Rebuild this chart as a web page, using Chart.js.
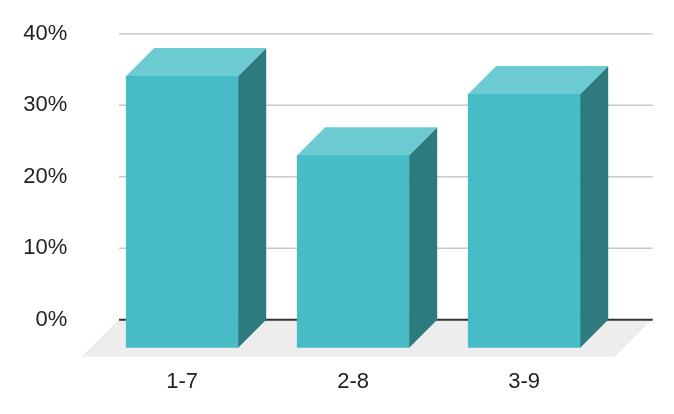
<!DOCTYPE html>
<html>
<head>
<meta charset="UTF-8" />
<title>3D bars</title>
<script src="https://cdn.jsdelivr.net/npm/chart.js"></script>
<style>
  html, body { margin: 0; padding: 0; background: #fff; }
  #wrap { width: 674px; height: 414px; }
</style>
</head>
<body>
<div id="wrap"><canvas id="chart"></canvas></div>
<script>
  // data
  const categories = ['1-7', '2-8', '3-9'];
  const shares = [0.38, 0.269, 0.355];
  const yTicks = [0, 0.1, 0.2, 0.3, 0.4];

  // colours
  const frontColor = '#48bcc6';
  const topColor = '#6ccad1';
  const sideColor = '#2e7b7f';
  const floorColor = '#ededed';
  const gridColor = '#c8c8c8';

  const DEPTH = 28; // depth of the bars (45 degrees)

  // grid, floor and the extra faces of the boxes
  const box3d = {
    id: 'box3d',
    beforeDatasetsDraw(chart) {
      const { ctx, chartArea, scales: { y } } = chart;
      const x0 = chartArea.left + 22.3;
      const x1 = chartArea.right + 43;
      ctx.save();
      // gridlines on the back wall
      ctx.strokeStyle = gridColor;
      ctx.lineWidth = 1.5;
      yTicks.forEach(v => {
        if (v === 0) return;
        const py = y.getPixelForValue(v) - DEPTH;
        ctx.beginPath();
        ctx.moveTo(x0, py);
        ctx.lineTo(x1, py);
        ctx.stroke();
      });
      // floor
      const base = y.getPixelForValue(0);
      const fy = base + 9;
      const fl = chartArea.left - 15;
      const fr = chartArea.right + 5.3;
      const fd = 37;
      ctx.fillStyle = floorColor;
      ctx.beginPath();
      ctx.moveTo(fl, fy);
      ctx.lineTo(fr, fy);
      ctx.lineTo(fr + fd, fy - fd);
      ctx.lineTo(fl + fd, fy - fd);
      ctx.closePath();
      ctx.fill();
      // zero line
      ctx.strokeStyle = '#333';
      ctx.lineWidth = 2;
      ctx.beginPath();
      ctx.moveTo(x0, base - DEPTH);
      ctx.lineTo(x1, base - DEPTH);
      ctx.stroke();
      ctx.restore();
    },
    afterDatasetsDraw(chart) {
      const { ctx } = chart;
      const d = DEPTH;
      ctx.save();
      chart.getDatasetMeta(0).data.forEach(bar => {
        const { x, y, base, width } = bar.getProps(['x', 'y', 'base', 'width'], true);
        const l = x - width / 2;
        const r = x + width / 2;
        // side
        ctx.fillStyle = sideColor;
        ctx.beginPath();
        ctx.moveTo(r, y);
        ctx.lineTo(r + d, y - d);
        ctx.lineTo(r + d, base - d);
        ctx.lineTo(r, base);
        ctx.closePath();
        ctx.fill();
        // top
        ctx.fillStyle = topColor;
        ctx.beginPath();
        ctx.moveTo(l, y);
        ctx.lineTo(l + d, y - d);
        ctx.lineTo(r + d, y - d);
        ctx.lineTo(r, y);
        ctx.closePath();
        ctx.fill();
      });
      ctx.restore();
    }
  };

  new Chart(document.getElementById('chart'), {
    type: 'bar',
    data: {
      labels: categories,
      datasets: [{
        data: shares,
        backgroundColor: frontColor,
        borderWidth: 0,
        barThickness: 112
      }]
    },
    options: {
      responsive: true,
      maintainAspectRatio: false,
      animation: false,
      layout: { padding: { top: 61.7, right: 64.3, left: 0, bottom: 0 } },
      plugins: { legend: { display: false }, tooltip: { enabled: false } },
      scales: {
        x: {
          grid: { display: false, drawTicks: false },
          border: { display: false },
          ticks: {
            color: '#222',
            font: { family: 'Liberation Sans, Arial, sans-serif', size: 22 },
            padding: 21,
            maxRotation: 0
          },
          afterFit(scale) { scale.height = 66.3; }
        },
        y: {
          min: 0,
          max: 0.4,
          grid: { display: false, drawTicks: false },
          border: { display: false },
          afterBuildTicks(scale) { scale.ticks = yTicks.map(v => ({ value: v })); },
          ticks: {
            color: '#222',
            font: { family: 'Liberation Sans, Arial, sans-serif', size: 22 },
            padding: 29.5,
            labelOffset: -DEPTH,
            callback: v => Math.round(v * 100) + '%'
          },
          afterFit(scale) { scale.width = 96.7; }
        }
      }
    },
    plugins: [box3d]
  });
</script>
</body>
</html>
